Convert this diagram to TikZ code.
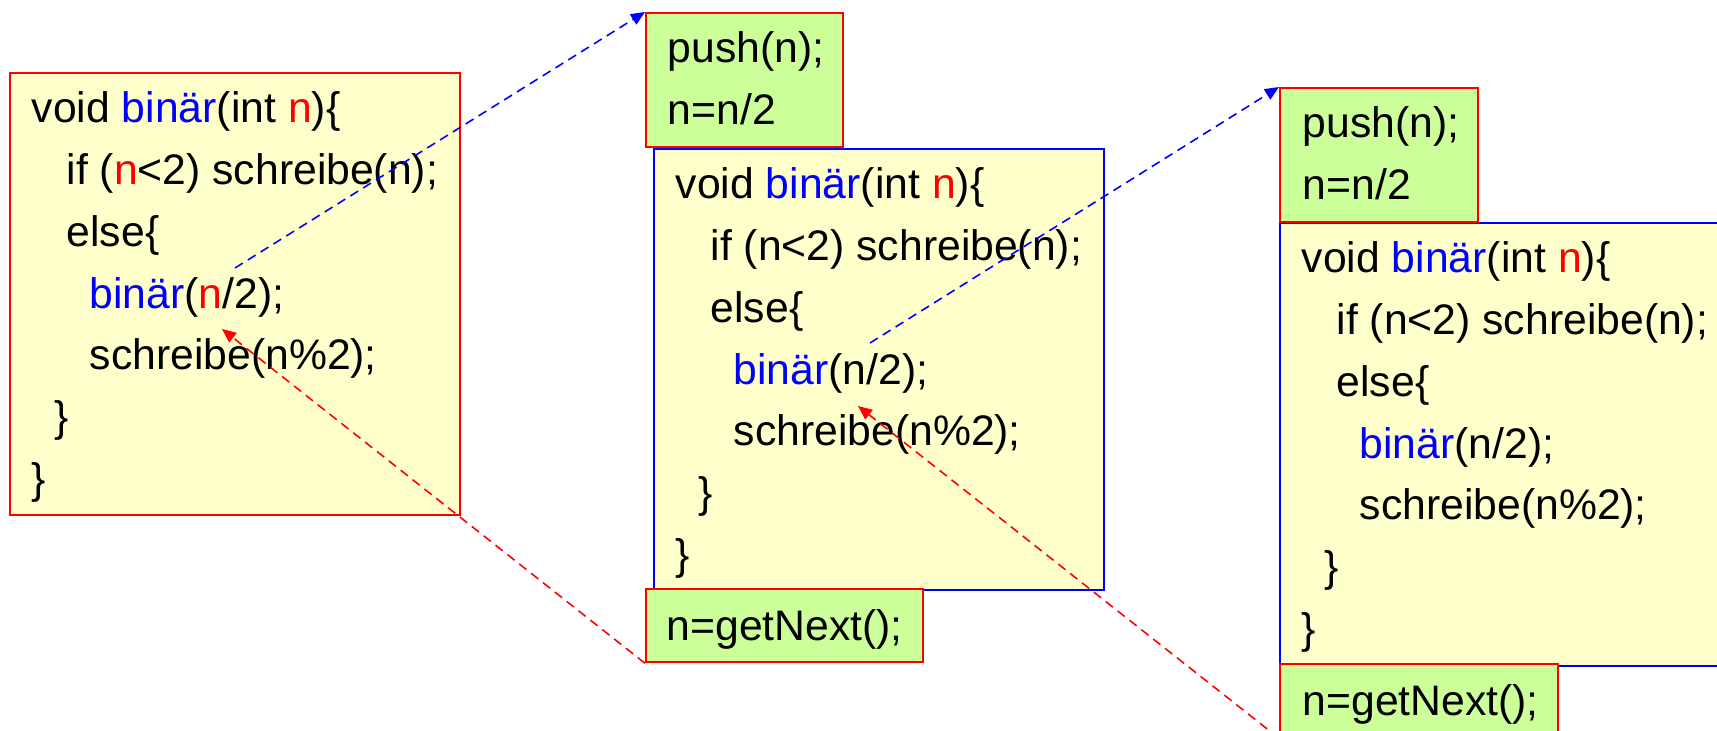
\documentclass[tikz,border=0pt]{standalone}
\usepackage{fontspec}
\setmainfont{Liberation Sans}
\usetikzlibrary{arrows.meta}
\definecolor{codeyellow}{HTML}{FFFFCC}
\definecolor{stmtgreen}{HTML}{CCFF99}

% body of binär, #1 = box node, #2/#3 = colour of n in the if and in the call
\newcommand\binlines[3]{%
  \begin{scope}[shift={(#1.north west)}]
    \node[codeline] (#1-1) at (0.22,-0.51) {void \textcolor{blue}{binär}(int \textcolor{red}{n})\{};
    \node[codeline] (#1-2) at (0.57,-1.127) {if (\textcolor{#2}{n}<2) schreibe(n);};
    \node[codeline] (#1-3) at (0.57,-1.744) {else\{};
    \node[codeline] (#1-4) at (0.80,-2.361) {\textcolor{blue}{binär}(\textcolor{#3}{n}/2);};
    \node[codeline] (#1-5) at (0.80,-2.978) {schreibe(n\%2);};
    \node[codeline] (#1-6) at (0.45,-3.595) {\}};
    \node[codeline] (#1-7) at (0.22,-4.212) {\}};
  \end{scope}}

\begin{document}
\begin{tikzpicture}[font=\fontsize{12.15}{14.5}\selectfont,
  fnbox/.style={draw=red,fill=codeyellow,line width=0.65pt,inner sep=0pt,
    anchor=north west,minimum width=4.5cm,minimum height=4.42cm},
  stmt/.style={draw=red,fill=stmtgreen,line width=0.65pt,inner sep=0pt,anchor=north west},
  codeline/.style={anchor=base west,inner sep=0pt},
  callarrow/.style={blue,line width=0.45pt,dash pattern=on 2.6pt off 1.7pt,
    -{Triangle[length=4pt,width=3.4pt]}},
  retarrow/.style={red,line width=0.45pt,dash pattern=on 2.6pt off 1.7pt,
    -{Triangle[length=4pt,width=3.4pt]}}]
  \useasboundingbox (0,0) rectangle (17.17,7.30);
  \clip (0,0) rectangle (17.17,7.30);

  \node[fnbox] (f1) at (0.09,6.58) {};
  \binlines{f1}{red}{red}

  \node[fnbox,draw=blue,minimum height=4.41cm] (f2) at (6.53,5.82) {};
  \binlines{f2}{black}{black}
  \node[stmt,minimum width=1.97cm,minimum height=1.34cm] (p2) at (6.45,7.18) {};
  \node[codeline] (p2-1) at ([shift={(0.22,-0.51)}]p2.north west) {push(n);};
  \node[codeline] (p2-2) at ([shift={(0.22,-1.13)}]p2.north west) {n=n/2};
  \node[stmt,minimum width=2.77cm,minimum height=0.73cm] (g2) at (6.45,1.42) {};
  \node[codeline] (g2-1) at ([shift={(0.21,-0.52)}]g2.north west) {n=getNext();};

  \node[fnbox,draw=blue,minimum height=4.43cm] (f3) at (12.79,5.08) {};
  \binlines{f3}{black}{black}
  \node[stmt,minimum width=1.98cm,minimum height=1.34cm] (p3) at (12.79,6.43) {};
  \node[codeline] (p3-1) at ([shift={(0.23,-0.51)}]p3.north west) {push(n);};
  \node[codeline] (p3-2) at ([shift={(0.23,-1.13)}]p3.north west) {n=n/2};
  \node[stmt,minimum width=2.78cm,minimum height=0.73cm] (g3) at (12.79,0.67) {};
  \node[codeline] (g3-1) at ([shift={(0.23,-0.52)}]g3.north west) {n=getNext();};

  \coordinate (c1) at (2.35,4.62);
  \coordinate (r1) at (2.22,4.01);
  \coordinate (c2) at (8.70,3.87);
  \coordinate (r2) at (8.58,3.24);
  \draw[callarrow] (c1) -- (p2.north west);
  \draw[callarrow] (c2) -- (p3.north west);
  \draw[retarrow] (g2.south west) -- (r1);
  \draw[retarrow] (g3.south west) -- (r2);
\end{tikzpicture}
\end{document}
